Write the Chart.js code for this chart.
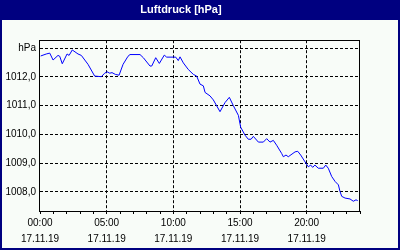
<!DOCTYPE html>
<html>
<head>
<meta charset="utf-8">
<script src="https://cdn.jsdelivr.net/npm/chart.js@4/dist/chart.umd.min.js"></script>
<style>
  html, body { margin: 0; padding: 0; background: #000080; }
  canvas { display: block; }
</style>
</head>
<body>
<canvas id="myChart" width="400" height="250"></canvas>
<script>
// time of day in hours (17.11.19) and pressure in hPa
const hours = [
  0.05, 0.47, 0.73, 0.98, 1.35, 1.48, 1.67, 2.03, 2.18, 2.42,
  2.85, 3.10, 3.60, 4.10, 4.60, 4.85, 5.03, 5.23, 5.40, 5.65,
  5.93, 6.23, 6.60, 6.75, 7.50, 7.75, 8.25, 8.38, 8.68, 8.95,
  9.32, 9.50, 10.18, 10.37, 10.50, 10.75, 11.12, 11.50, 11.75, 12.00,
  12.25, 12.38, 12.75, 13.00, 13.50, 13.88, 14.20, 14.50, 14.88, 15.05,
  15.38, 15.62, 15.83, 16.00, 16.38, 16.75, 17.00, 17.25, 17.50, 17.75,
  18.13, 18.25, 18.45, 18.62, 19.13, 19.33, 19.55, 19.88, 20.12, 20.30,
  20.45, 20.62, 20.87, 21.25, 21.43, 21.62, 21.88, 22.13, 22.38, 22.50,
  22.63, 22.88, 23.25, 23.50, 23.70, 23.83
];
const pressure = [
  1012.73, 1012.80, 1012.83, 1012.59, 1012.75, 1012.72, 1012.46, 1012.80, 1012.75, 1012.94,
  1012.80, 1012.75, 1012.44, 1012.03, 1012.01, 1012.13, 1012.18, 1012.13, 1012.15, 1012.09,
  1012.06, 1012.44, 1012.72, 1012.78, 1012.78, 1012.67, 1012.38, 1012.38, 1012.67, 1012.47,
  1012.76, 1012.69, 1012.69, 1012.57, 1012.70, 1012.49, 1012.26, 1012.09, 1012.03, 1011.75,
  1011.69, 1011.46, 1011.34, 1011.20, 1010.79, 1011.11, 1011.29, 1011.00, 1010.66, 1010.25,
  1009.97, 1009.83, 1009.83, 1009.93, 1009.73, 1009.73, 1009.85, 1009.73, 1009.79, 1009.62,
  1009.33, 1009.22, 1009.28, 1009.22, 1009.39, 1009.41, 1009.28, 1009.04, 1008.87, 1008.93,
  1008.85, 1008.93, 1008.82, 1008.82, 1008.93, 1008.82, 1008.53, 1008.36, 1008.24, 1008.01,
  1007.84, 1007.78, 1007.75, 1007.67, 1007.72, 1007.69
];
const hourLabels = { 0: '00:00', 5: '05:00', 10: '10:00', 15: '15:00', 20: '20:00' };
const dateLabel = '17.11.19';
const unitLabel = 'hPa';

const points = hours.map((h, i) => ({ x: h, y: pressure[i] }));

const background = {
  id: 'background',
  beforeDraw(chart) {
    const c = chart.ctx;
    c.save();
    c.fillStyle = '#000080';
    c.fillRect(0, 0, chart.width, chart.height);
    c.fillStyle = '#f8fcf8';
    c.fillRect(2, 20, chart.width - 4, chart.height - 22);
    c.restore();
  }
};

const frame = {
  id: 'frame',
  beforeDatasetsDraw(chart) {
    const a = chart.chartArea;
    const c = chart.ctx;
    c.save();
    c.strokeStyle = '#000';
    c.lineWidth = 1;
    c.setLineDash([]);
    c.strokeRect(Math.round(a.left) - 0.5, Math.round(a.top) + 0.5,
      Math.round(a.right - a.left), Math.round(a.bottom - a.top));
    c.restore();
  }
};

const tickFont = { family: 'Liberation Sans', size: 10, lineHeight: 1.6 };

let myChart = new Chart(document.getElementById('myChart'), {
  type: 'line',
  data: {
    datasets: [{
      data: points,
      borderColor: '#0000ff',
      borderWidth: 1,
      pointRadius: 0,
      tension: 0,
      fill: false
    }]
  },
  options: {
    responsive: false,
    animation: false,
    layout: { padding: { left: 2, right: 40, top: 0, bottom: 3 } },
    plugins: {
      legend: { display: false },
      tooltip: { enabled: false },
      title: {
        display: true,
        text: 'Luftdruck [hPa]',
        color: '#fff',
        font: { family: 'Liberation Sans', size: 11, weight: 'bold', lineHeight: 1.2 },
        padding: { top: 3, bottom: 24 }
      }
    },
    scales: {
      x: {
        type: 'linear',
        min: 0,
        max: 24,
        afterFit: s => { s.height = 36; },
        border: { display: false, dash: [3, 2] },
        grid: {
          color: c => (c.tick && c.tick.value % 5 === 0 && c.tick.value > 0 && c.tick.value < 24) ? '#000' : 'rgba(0,0,0,0)',
          tickColor: '#000',
          tickLength: 3,
          lineWidth: 1
        },
        ticks: {
          stepSize: 1,
          autoSkip: false,
          maxRotation: 0,
          padding: 1,
          color: '#000',
          font: tickFont,
          callback: v => hourLabels[v] !== undefined ? [hourLabels[v], dateLabel] : ''
        }
      },
      y: {
        min: 1007.33,
        max: 1013.28,
        afterFit: s => { s.width = 38; },
        border: { display: false, dash: [3, 2] },
        grid: {
          color: '#000',
          drawTicks: false,
          lineWidth: 1
        },
        ticks: {
          stepSize: 1,
          includeBounds: false,
          padding: 4,
          color: '#000',
          font: { family: 'Liberation Sans', size: 10 },
          callback: v => v === 1013 ? unitLabel : v.toFixed(1).replace('.', ',')
        }
      }
    }
  },
  plugins: [background, frame]
});
</script>
</body>
</html>
